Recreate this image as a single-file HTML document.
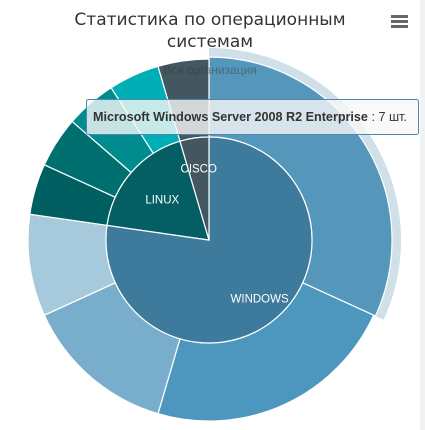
<!DOCTYPE html>
<html><head><meta charset="utf-8"><style>
body{margin:0;width:425px;height:430px;overflow:hidden;background:#fff;font-family:"Liberation Sans","DejaVu Sans",sans-serif}
#strip{position:absolute;left:420px;top:0;width:5px;height:430px;background:#f2f2f2}
svg{position:absolute;left:0;top:0}
</style></head><body>
<div id="strip"></div>
<svg id="chart" width="425" height="430">
<text x="210" y="24" text-anchor="middle" font-size="17" font-family="DejaVu Sans, sans-serif" fill="#333"><tspan x="210" y="25">Статистика по операционным</tspan><tspan x="210" y="47">системам</tspan></text>
<g><rect x="391" y="15" width="17" height="3" fill="#666"/><rect x="391" y="20" width="17" height="3" fill="#666"/><rect x="391" y="25" width="17" height="3" fill="#666"/></g>
<g id="outer"></g><g id="inner"></g><g id="labels"></g>
<text x="210" y="74" text-anchor="middle" font-size="12" fill="#333" opacity="0.45">Вся организация</text>
<g>
<rect x="86.5" y="99.5" width="332" height="35" rx="2" fill="rgba(247,247,247,0.8)" stroke="#4d87ad"/>
<text x="93" y="121" font-size="12.6" fill="#333"><tspan font-weight="bold">Microsoft Windows Server 2008 R2 Enterprise</tspan> : 7 шт.</text>
</g>
</svg>
<script>
const innerNames=['WINDOWS','LINUX','CISCO'];
const innerValues=[17,4,1];
const innerColors=['#3d7a9c','#035f63','#44565f'];
const outerNames=['Microsoft Windows Server 2008 R2 Enterprise','Windows 2','Windows 3','Windows 4','Linux 1','Linux 2','Linux 3','Linux 4','Cisco 1'];
const outerValues=[7,5,3,2,1,1,1,1,1];
const outerColors=['#5597bb','#4d96bd','#78aecb','#a6c9db','#005f60','#006f70','#008b8f','#00aeb5','#44565f'];
const cx=209,cy=240,ri=103,ro=181;
const NS='http://www.w3.org/2000/svg';
function pt(a,r){return [cx+r*Math.sin(a),cy-r*Math.cos(a)];}
function arc(a0,a1,r0,r1){const l=(a1-a0)>Math.PI?1:0;const p0=pt(a0,r1),p1=pt(a1,r1);
 if(r0===0)return `M${cx},${cy}L${p0}A${r1},${r1} 0 ${l} 1 ${p1}Z`;
 const q1=pt(a1,r0),q0=pt(a0,r0);return `M${p0}A${r1},${r1} 0 ${l} 1 ${p1}L${q1}A${r0},${r0} 0 ${l} 0 ${q0}Z`;}
function draw(g,vals,cols,names,r0,r1,pre){const tot=vals.reduce((a,b)=>a+b,0);let a=0;
 vals.forEach((v,i)=>{const a1=a+v/tot*2*Math.PI;
  if(pre==='outer'&&i===0){const h=document.createElementNS(NS,'path');h.setAttribute('d',arc(a,a1,r1,r1+11));h.setAttribute('fill','#cfe0e9');
   
   
   g.appendChild(h);}
  const p=document.createElementNS(NS,'path');p.setAttribute('d',arc(a,a1,r0,(pre==='outer'&&i===0)?r1+2:r1));
  p.setAttribute('fill',cols[i]);p.setAttribute('stroke','#fff');p.setAttribute('stroke-width','1.2');
  
  
  g.appendChild(p);a=a1;});}
draw(document.getElementById('outer'),outerValues,outerColors,outerNames,ri,ro,'outer');
draw(document.getElementById('inner'),innerValues,innerColors,innerNames,0,ri,'inner');
const lg=document.getElementById('labels');const it=innerValues.reduce((a,b)=>a+b,0);let a=0;
const rfac=[0.75,0.6,0.7];
innerValues.forEach((v,i)=>{const a1=a+v/it*2*Math.PI;const m=(a+a1)/2;const p=pt(m,rfac[i]*ri);
 const t=document.createElementNS(NS,'text');t.setAttribute('x',p[0]);t.setAttribute('y',p[1]+4);t.setAttribute('text-anchor','middle');
 t.setAttribute('font-size','11.5');t.setAttribute('fill','#fff');t.textContent=innerNames[i];
 
 
 lg.appendChild(t);a=a1;});
</script>
</body></html>
